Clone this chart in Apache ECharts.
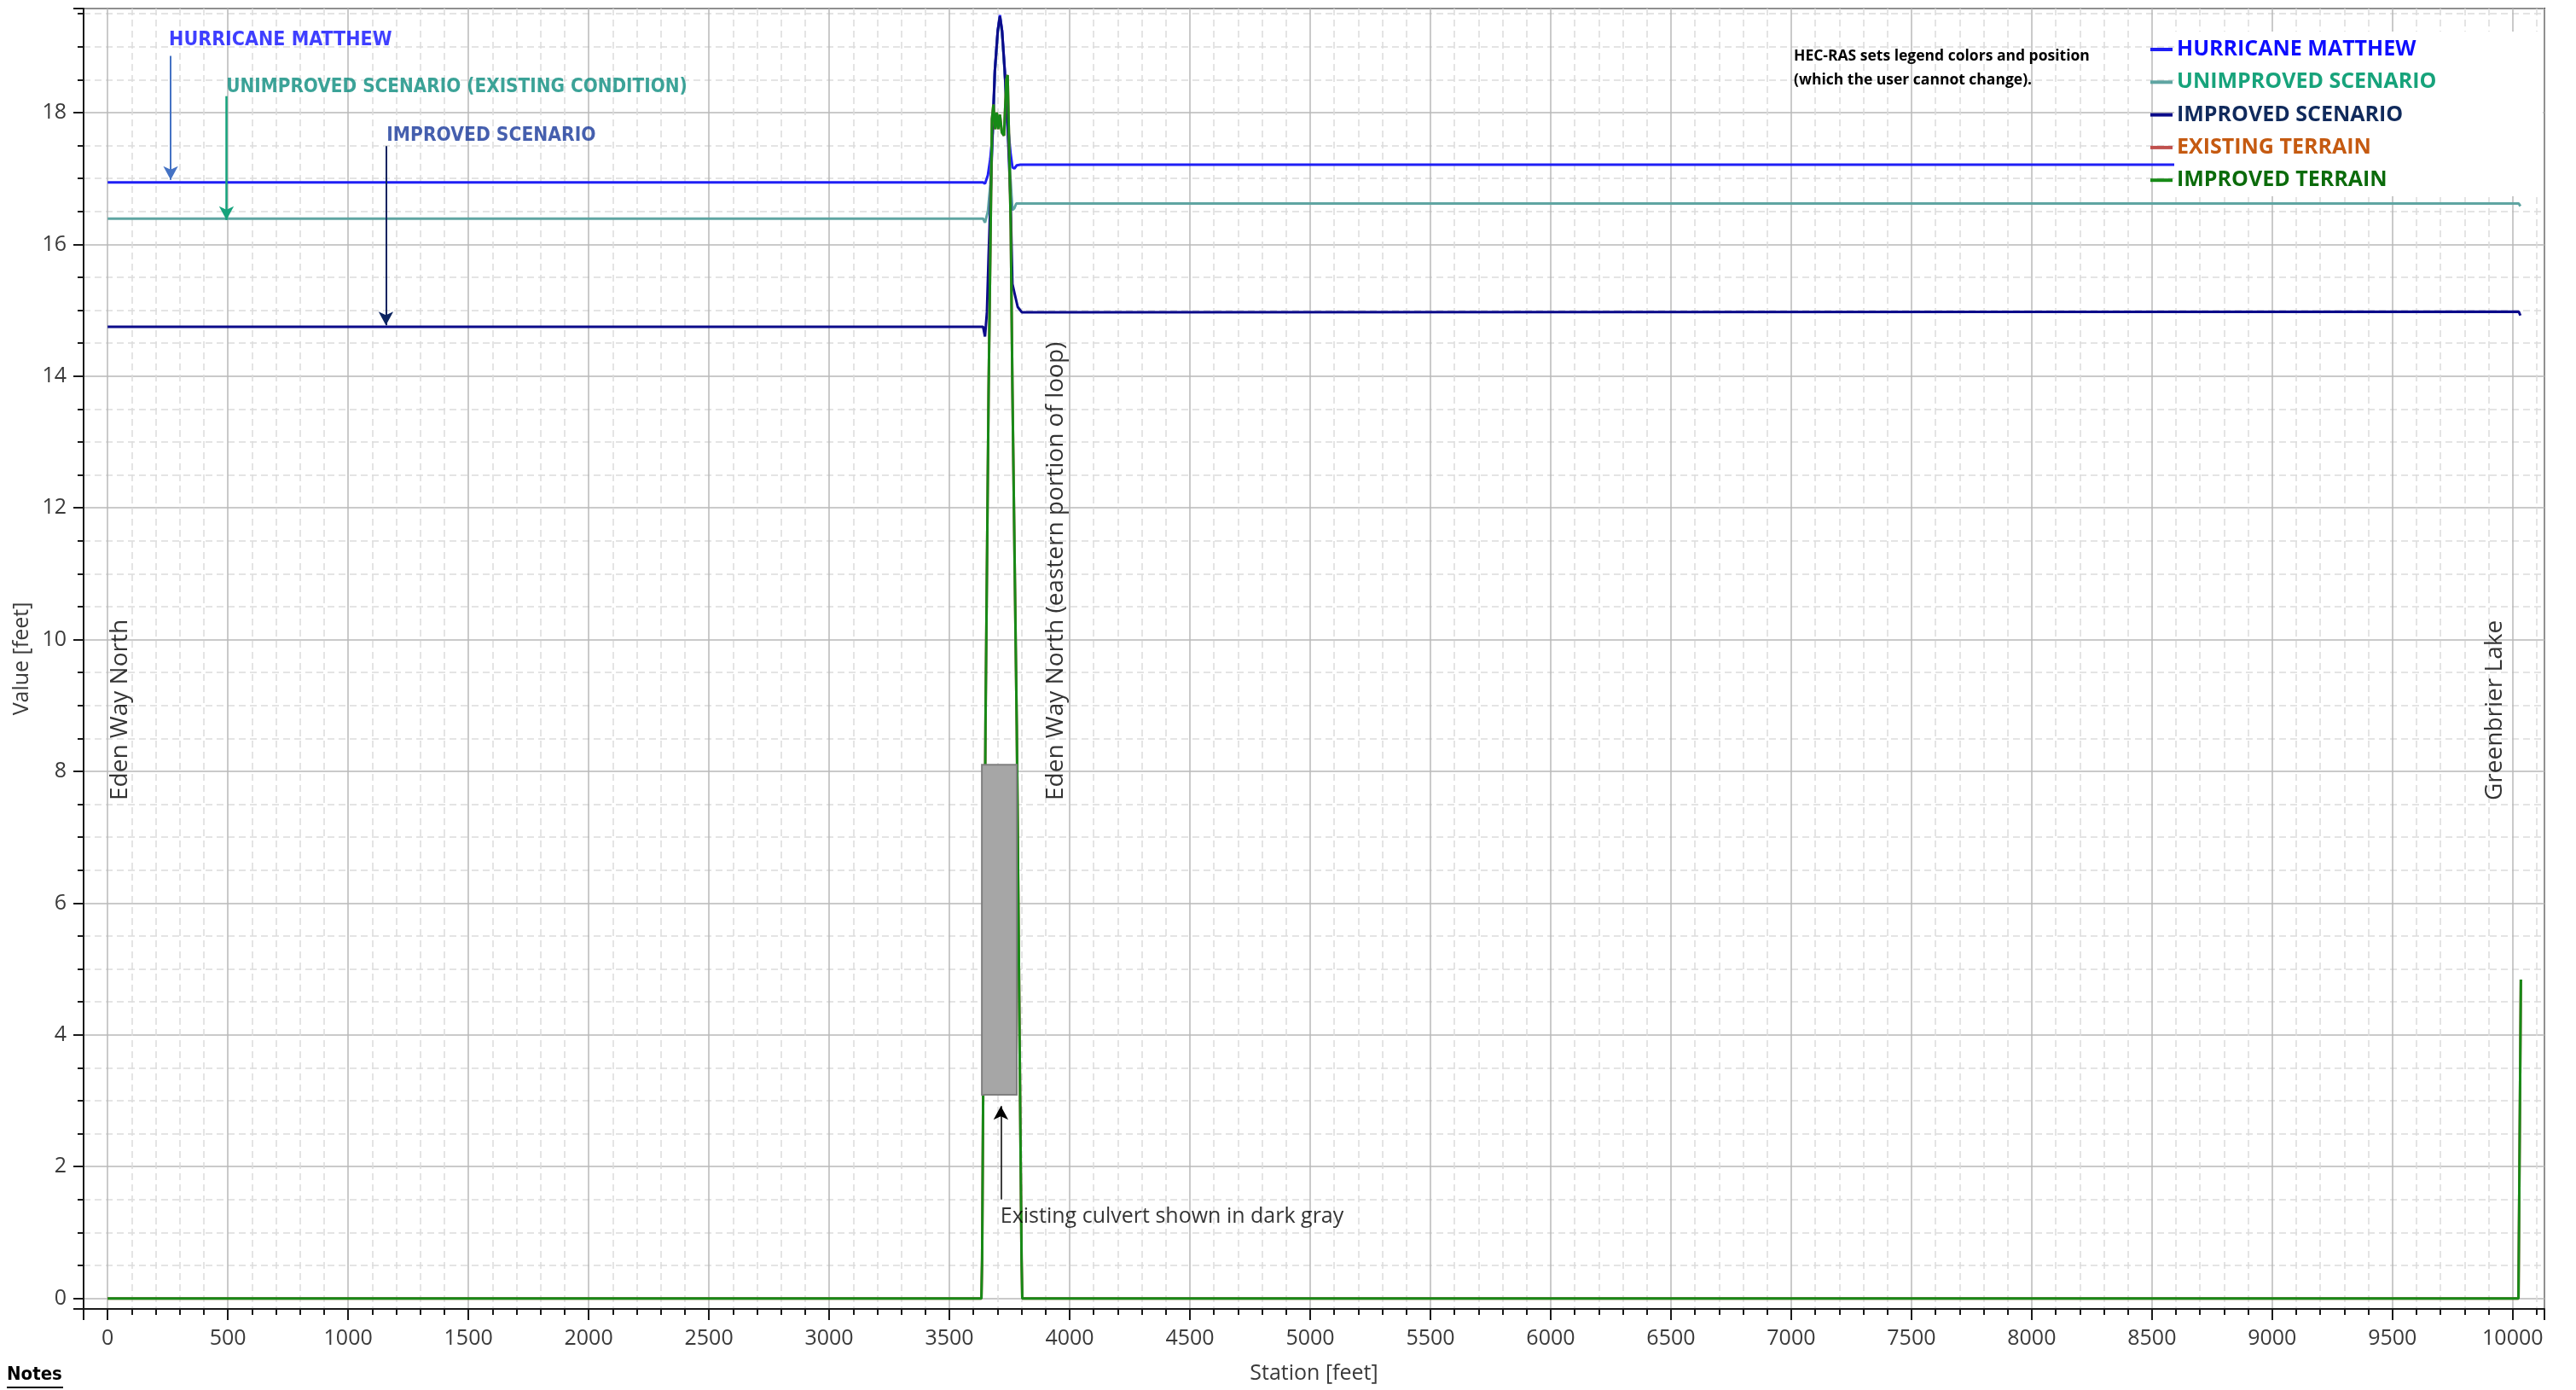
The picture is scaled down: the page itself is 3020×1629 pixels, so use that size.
<!DOCTYPE html>
<html>
<head>
<meta charset="utf-8">
<title>Profile plot - Eden Way North</title>
<script src="https://cdn.jsdelivr.net/npm/echarts@6/dist/echarts.min.js"></script>
<style>
  html, body { margin: 0; padding: 0; background: #fff; }
  #chart { width: 3020px; height: 1629px; }
</style>
</head>
<body>
<div id="chart"></div>
<script>
// series names (legend order)
const seriesNames = ['HURRICANE MATTHEW', 'UNIMPROVED SCENARIO', 'IMPROVED SCENARIO', 'EXISTING TERRAIN', 'IMPROVED TERRAIN']

// water surface, Hurricane Matthew  (station ft / elevation ft)
const matthewStation = [0, 3640, 3648, 3660, 3670, 3680, 3689, 3701, 3710, 3719, 3730, 3742, 3754, 3762, 3770, 3780, 3795, 10032]
const matthewValue   = [16.94, 16.94, 16.92, 17.05, 17.3, 17.7, 18.64, 19.24, 19.48, 19.24, 18.64, 17.86, 17.39, 17.17, 17.15, 17.2, 17.21, 17.21]

// water surface, unimproved scenario (existing condition)
const unimprovedStation = [0, 3640, 3648, 3660, 3670, 3680, 3689, 3701, 3710, 3719, 3730, 3742, 3754, 3762, 3770, 3778, 3790, 10025, 10032]
const unimprovedValue   = [16.39, 16.39, 16.33, 16.5, 16.9, 17.65, 18.62, 19.22, 19.45, 19.2, 18.6, 17.8, 17.0, 16.52, 16.55, 16.62, 16.62, 16.62, 16.58]

// water surface, improved scenario
const improvedStation = [0, 3640, 3648, 3656, 3663, 3671, 3680, 3689, 3701, 3710, 3719, 3730, 3742, 3754, 3762, 3770, 3784, 3801, 10025, 10032]
const improvedValue   = [14.75, 14.75, 14.6, 14.97, 15.83, 16.7, 17.78, 18.64, 19.24, 19.46, 19.24, 18.64, 17.78, 16.7, 15.4, 15.27, 15.05, 14.97, 14.98, 14.92]

// ground profiles (existing terrain lies under the improved terrain everywhere it is drawn)
const terrainStation = [0, 3633, 3636, 3650, 3663, 3677, 3683, 3690, 3697, 3703, 3710, 3718, 3727, 3737, 3742, 3748, 3755, 3762, 3780, 3800, 3803, 10024, 10034]
const existingTerrainValue = [0, 0, 0.6, 8.7, 13.8, 17.9, 18.12, 17.75, 18.0, 17.75, 17.97, 17.7, 17.65, 18.5, 18.57, 17.56, 16.3, 13.8, 8.7, 0.6, 0, 0, 4.84]
const improvedTerrainValue = [0, 0, 0.6, 8.7, 13.8, 17.9, 18.12, 17.75, 18.0, 17.75, 17.97, 17.7, 17.65, 18.5, 18.57, 17.56, 16.3, 13.8, 8.7, 0.6, 0, 0, 4.84]

// existing culvert: [station from, station to, bottom elev, top elev]
const culvertBox = [3635, 3780, 3.09, 8.1]

// axis ranges and tick steps
const xRange = [-100, 10132]
const yRange = [-0.16, 19.58]
const xStep = 500
const yStep = 2

const zip = (xs, ys) => xs.map((x, i) => [x, ys[i]])

const lineColors = ['#1f1ff5', '#5fa5a2', '#0b0b8a', '#c0504d', '#178a17']
const legendTextColors = ['#0d0dff', '#17a37b', '#102a5c', '#c55a11', '#0b6b0b']
const baseFont = '"Open Sans", "Noto Sans", sans-serif'
const narrowFont = '"DejaVu Sans Condensed", "Liberation Sans Narrow", "Open Sans", sans-serif'

const lineData = [
  zip(matthewStation, matthewValue),
  zip(unimprovedStation, unimprovedValue),
  zip(improvedStation, improvedValue),
  zip(terrainStation, existingTerrainValue),
  zip(terrainStation, improvedTerrainValue)
]

// in-plot notes (data coordinates)
const notes = [
  { text: 'HURRICANE MATTHEW', at: [255, 19.1], color: '#0f0fff', bold: true, size: 23 },
  { text: 'UNIMPROVED SCENARIO (EXISTING CONDITION)', at: [493, 18.39], color: '#0b8c7e', bold: true, size: 22.3 },
  { text: 'IMPROVED SCENARIO', at: [1160, 17.65], color: '#16379a', bold: true, size: 22.6 },
  { text: 'Existing culvert shown in dark gray', at: [3712, 1.24], color: '#000', bold: false, size: 25 },
  { text: 'Eden Way North', at: [53, 7.56], color: '#000', vertical: true, size: 28 },
  { text: 'Eden Way North (eastern portion of loop)', at: [3943, 7.56], color: '#000', vertical: true, size: 28 },
  { text: 'Greenbrier Lake', at: [9926, 7.56], color: '#000', vertical: true, size: 28 }
]

const arrows = [
  { from: [262, 18.86], to: [262, 16.98], color: '#4472c4', width: 2 },
  { from: [494, 18.25], to: [494, 16.37], color: '#16a37c', width: 2.5 },
  { from: [1157, 17.49], to: [1157, 14.77], color: '#0c2460', width: 2 },
  { from: [3714, 1.5], to: [3714, 2.92], color: '#000', width: 1.5 }
]

const chart = echarts.init(document.getElementById('chart'))

const tickLabel = step => v => (Math.abs(v / step - Math.round(v / step)) < 1e-6 ? String(Math.round(v)) : '')

const option = {
  animation: false,
  backgroundColor: '#fff',
  grid: {
    left: 98, right: 37, top: 10, bottom: 95,
    containLabel: false,
    outerBoundsMode: 'none',
    show: true, borderColor: '#1a1a1a', borderWidth: 2
  },
  legend: {
    orient: 'vertical',
    left: 2521, top: 43,
    padding: 0,
    itemGap: 8.3,
    itemWidth: 26, itemHeight: 4,
    icon: 'rect',
    selectedMode: false,
    z: 20,
    textStyle: { fontFamily: baseFont, fontWeight: 'bold', fontSize: 25, lineHeight: 30 },
    data: seriesNames.map((name, i) => ({ name, textStyle: { color: legendTextColors[i] } }))
  },
  xAxis: {
    type: 'value',
    min: xRange[0], max: xRange[1],
    minInterval: xStep, maxInterval: xStep, splitNumber: 20,
    name: 'Station [feet]',
    nameLocation: 'middle', nameGap: 63,
    nameTextStyle: { fontFamily: baseFont, fontSize: 25, color: '#3a3a3a' },
    axisLine: { onZero: false, lineStyle: { color: '#1a1a1a', width: 2 } },
    axisTick: { length: 13, lineStyle: { color: '#1a1a1a', width: 2 } },
    minorTick: { show: true, splitNumber: 5, length: 7, lineStyle: { color: '#1a1a1a', width: 2 } },
    axisLabel: { margin: 22, fontFamily: baseFont, fontSize: 25, color: '#3a3a3a', formatter: tickLabel(xStep) },
    splitLine: { show: true, lineStyle: { color: '#b8b8b8', width: 1.5 } },
    minorSplitLine: { show: true, lineStyle: { color: '#dcdcdc', width: 1.5, type: [8, 5] } }
  },
  yAxis: {
    type: 'value',
    min: yRange[0], max: yRange[1],
    minInterval: yStep, maxInterval: yStep, splitNumber: 10,
    name: 'Value [feet]',
    nameLocation: 'middle', nameGap: 47,
    nameTextStyle: { fontFamily: baseFont, fontSize: 25, color: '#3a3a3a' },
    axisLine: { onZero: false, lineStyle: { color: '#1a1a1a', width: 2 } },
    axisTick: { length: 12, lineStyle: { color: '#1a1a1a', width: 2 } },
    minorTick: { show: true, splitNumber: 4, length: 7, lineStyle: { color: '#1a1a1a', width: 2 } },
    axisLabel: { margin: 20, fontFamily: baseFont, fontSize: 25, color: '#3a3a3a', formatter: tickLabel(yStep) },
    splitLine: { show: true, lineStyle: { color: '#b8b8b8', width: 1.5 } },
    minorSplitLine: { show: true, lineStyle: { color: '#dcdcdc', width: 1.5, type: [8, 5] } }
  },
  series: [
    ...seriesNames.map((name, i) => ({
      name,
      type: 'line',
      data: lineData[i],
      color: lineColors[i],
      symbol: 'none',
      z: 2,
      lineStyle: { color: lineColors[i], width: 3 },
      emphasis: { disabled: true }
    })),
    {
      name: 'culvert',
      type: 'custom',
      z: 5,
      silent: true,
      data: [culvertBox],
      encode: { x: [0, 1], y: [2, 3] },
      renderItem: (params, api) => {
        const p0 = api.coord([api.value(0), api.value(3)])
        const p1 = api.coord([api.value(1), api.value(2)])
        return {
          type: 'rect',
          shape: { x: p0[0], y: p0[1], width: p1[0] - p0[0], height: p1[1] - p0[1] },
          style: { fill: '#a6a6a6', stroke: '#7f7f7f', lineWidth: 2 }
        }
      }
    },
    {
      name: 'notes',
      type: 'scatter',
      z: 8,
      silent: true,
      symbolSize: 0,
      data: notes.map(n => ({
        name: n.text,
        value: n.at,
        label: n.vertical ? {
          show: true, formatter: '{b}', position: 'inside', rotate: 90,
          align: 'left', verticalAlign: 'middle',
          fontFamily: baseFont, fontSize: n.size, color: n.color
        } : {
          show: true, formatter: '{b}', position: 'right', distance: 0,
          fontFamily: n.bold ? narrowFont : baseFont,
          fontWeight: n.bold ? 'bold' : 'normal',
          fontSize: n.size, color: n.color
        }
      })),
      markLine: {
        silent: true,
        symbol: ['none', 'arrow'],
        symbolSize: [13, 16],
        label: { show: false },
        lineStyle: { type: 'solid' },
        emphasis: { disabled: true },
        data: arrows.map(a => [
          { coord: a.from, lineStyle: { color: a.color, width: a.width, type: 'solid' } },
          { coord: a.to }
        ])
      }
    }
  ],
  graphic: [
    { type: 'rect', z: 10, silent: true, shape: { x: 2549, y: 37, width: 432, height: 193 }, style: { fill: '#fff' } },
    {
      type: 'text', z: 11, left: 2103, top: 52,
      style: {
        text: 'HEC-RAS sets legend colors and position\n(which the user cannot change).',
        fontFamily: baseFont, fontWeight: 'bold', fontSize: 17.5, lineHeight: 28, fill: '#000'
      }
    },
    {
      type: 'text', z: 11, left: 8, top: 1600,
      style: { text: 'Notes', fontFamily: narrowFont, fontWeight: 'bold', fontSize: 22, fill: '#000' }
    },
    { type: 'line', z: 11, shape: { x1: 8, y1: 1626, x2: 74, y2: 1626 }, style: { stroke: '#000', lineWidth: 2 } }
  ]
}

chart.setOption(option)
</script>
</body>
</html>
